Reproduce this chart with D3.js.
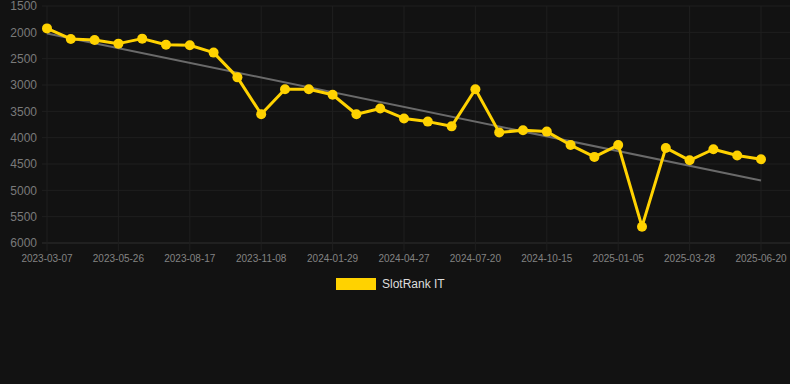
<!DOCTYPE html>
<html>
<head>
<meta charset="utf-8">
<script src="https://cdn.jsdelivr.net/npm/d3@7.9.0/dist/d3.min.js"></script>
<style>
  body { margin: 0; background: #121212; }
  svg { display: block; font-family: "Liberation Sans", Arial, sans-serif; }
</style>
</head>
<body>
<svg id="chart" width="790" height="384"></svg>
<script>
// tick labels shown on the x axis (every third point)
const tickLabels = ["2023-03-07", "2023-05-26", "2023-08-17", "2023-11-08", "2024-01-29",
  "2024-04-27", "2024-07-20", "2024-10-15", "2025-01-05", "2025-03-28", "2025-06-20"];
// rank values, one per point
const rankValues = [1925, 2125, 2145, 2215, 2120, 2235, 2245, 2385, 2855, 3555, 3080,
  3080, 3185, 3555, 3445, 3635, 3695, 3785, 3080, 3900, 3860, 3885, 4140, 4365, 4140,
  5690, 4195, 4430, 4220, 4340, 4410];
const yTicks = [1500, 2000, 2500, 3000, 3500, 4000, 4500, 5000, 5500, 6000];
const seriesName = "SlotRank IT";

const svg = d3.select('#chart');
const plotLeft = 42, plotRight = 790, plotTop = 6, plotBottom = 243;

let idx = d3.range(rankValues.length);
let x = d3.scalePoint().domain(idx).range([47, 761]);
let y = d3.scaleLinear().domain([1500, 6000]).range([plotTop, plotBottom]);

// grid
svg.append('g')
  .selectAll('line')
  .data(yTicks)
  .join('line')
  .attr('x1', plotLeft).attr('x2', plotRight)
  .attr('y1', d => y(d)).attr('y2', d => y(d))
  .attr('stroke', (d) => d === 6000 ? '#2e2e2e' : '#1f1f1f')
  .attr('stroke-width', 1);

let tickIdx = idx.filter(i => i % 3 === 0);
svg.append('g')
  .selectAll('line')
  .data(tickIdx)
  .join('line')
  .attr('x1', d => x(d)).attr('x2', d => x(d))
  .attr('y1', plotTop).attr('y2', plotBottom + 8)
  .attr('stroke', '#1f1f1f');

// y labels
svg.append('g')
  .selectAll('text')
  .data(yTicks)
  .join('text')
  .attr('x', 37)
  .attr('y', d => y(d))
  .attr('dy', '0.35em')
  .attr('text-anchor', 'end')
  .attr('fill', '#7a7a7a')
  .attr('font-size', 12)
  .text(d => d);

// x labels
svg.append('g')
  .selectAll('text')
  .data(tickIdx)
  .join('text')
  .attr('x', d => x(d))
  .attr('y', 262)
  .attr('text-anchor', 'middle')
  .attr('fill', '#838383')
  .attr('font-size', 10)
  .text((d, i) => tickLabels[i]);

// trend line (least squares)
let mx = d3.mean(idx), my = d3.mean(rankValues);
let slope = d3.sum(idx, i => (i - mx) * (rankValues[i] - my)) / d3.sum(idx, i => (i - mx) ** 2);
let icpt = my - slope * mx;
let last = idx.length - 1;
svg.append('line')
  .attr('x1', x(0)).attr('y1', y(icpt))
  .attr('x2', x(last)).attr('y2', y(icpt + slope * last))
  .attr('stroke', '#6a6a6a')
  .attr('stroke-width', 2);

// series
let line = d3.line().x(i => x(i)).y(i => y(rankValues[i]));
svg.append('path')
  .attr('d', line(idx))
  .attr('fill', 'none')
  .attr('stroke', '#ffd200')
  .attr('stroke-width', 3)
  .attr('stroke-linejoin', 'round');

svg.append('g')
  .selectAll('circle')
  .data(idx)
  .join('circle')
  .attr('cx', i => x(i))
  .attr('cy', i => y(rankValues[i]))
  .attr('r', 5)
  .attr('fill', '#ffd200');

// legend
svg.append('rect')
  .attr('x', 336).attr('y', 278)
  .attr('width', 40).attr('height', 12)
  .attr('fill', '#ffd200');
svg.append('text')
  .attr('x', 382).attr('y', 284)
  .attr('dy', '0.35em')
  .attr('fill', '#dddddd')
  .attr('font-size', 12)
  .text(seriesName);
</script>
</body>
</html>
